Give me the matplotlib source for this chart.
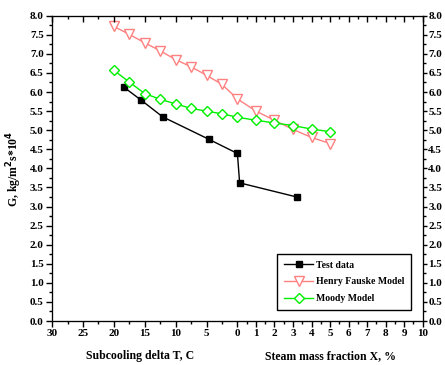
import matplotlib
matplotlib.use("Agg")
import matplotlib.pyplot as plt
from matplotlib.ticker import FixedLocator, MultipleLocator

plt.rcParams['font.family'] = 'Liberation Serif'
plt.rcParams['font.weight'] = 'bold'
plt.rcParams['font.size'] = 8

# x axis is split: subcooling (30 -> 0 C) on the left, steam quality (0 -> 10 %) on the right
subcool_ticks = [30, 25, 20, 15, 10, 5, 0]
quality_ticks = [1, 2, 3, 4, 5, 6, 7, 8, 9, 10]
QUALITY_SCALE = 3.0  # one % of quality takes as much room as 3 C of subcooling

# Henry Fauske model
hf_subcool = [20, 17.5, 15, 12.5, 10, 7.5, 5, 2.5, 0]
hf_subcool_G = [7.72, 7.51, 7.29, 7.08, 6.85, 6.66, 6.44, 6.20, 5.82]
hf_quality = [1, 2, 3, 4, 5]
hf_quality_G = [5.50, 5.26, 5.02, 4.81, 4.65]

# Moody model
moody_subcool = [20, 17.5, 15, 12.5, 10, 7.5, 5, 2.5, 0]
moody_subcool_G = [6.57, 6.26, 5.96, 5.81, 5.69, 5.57, 5.50, 5.43, 5.34]
moody_quality = [1, 2, 3, 4, 5]
moody_quality_G = [5.26, 5.19, 5.12, 5.03, 4.96]

# test data
test_subcool = [18.4, 15.6, 12.1, 4.6, 0]
test_subcool_G = [6.13, 5.79, 5.35, 4.76, 4.39]
test_quality = [0.12, 3.2]
test_quality_G = [3.62, 3.25]


def to_axis(subcool, quality):
    """map subcooling and quality values onto one shared x coordinate"""
    return [-t for t in subcool] + [q * QUALITY_SCALE for q in quality]


fig = plt.figure(figsize=(4.45, 3.65), dpi=100)
ax = fig.add_axes([0.117, 0.1205, 0.833, 0.8365])

ax.plot(to_axis(test_subcool, test_quality), test_subcool_G + test_quality_G,
        color='black', marker='s', markersize=5, linewidth=1, label='Test data')
ax.plot(to_axis(hf_subcool, hf_quality), hf_subcool_G + hf_quality_G,
        color='#ff8080', marker='v', markersize=6.5, markerfacecolor='white',
        markeredgewidth=1, linewidth=1, label='Henry Fauske Model')
ax.plot(to_axis(moody_subcool, moody_quality), moody_subcool_G + moody_quality_G,
        color='#00f000', marker='D', markersize=5.5, markerfacecolor='white',
        markeredgewidth=1, linewidth=1, label='Moody Model')

xmin, xmax = -30, 10 * QUALITY_SCALE
ax.set_xlim(xmin, xmax)
ax.set_ylim(0, 8)

major_x = [-t for t in subcool_ticks] + [q * QUALITY_SCALE for q in quality_ticks]
major_labels = [str(t) for t in subcool_ticks] + [str(q) for q in quality_ticks]
minor_x = [-t for t in [27.5, 22.5, 17.5, 12.5, 7.5, 2.5]] + \
          [(q + 0.5) * QUALITY_SCALE for q in range(0, 10)]

ax.xaxis.set_major_locator(FixedLocator(major_x))
ax.set_xticklabels(major_labels)
ax.xaxis.set_minor_locator(FixedLocator(minor_x))
ax.yaxis.set_major_locator(MultipleLocator(0.5))
ax.yaxis.set_minor_locator(MultipleLocator(0.25))
ax.yaxis.set_major_formatter(plt.FormatStrFormatter('%.1f'))
ax.tick_params(which='major', direction='out', length=4, width=1, pad=2)
ax.tick_params(which='minor', direction='out', length=2.5, width=1)

# right axis mirrors the left one
axr = ax.twinx()
axr.set_ylim(0, 8)
axr.yaxis.set_major_locator(MultipleLocator(0.5))
axr.yaxis.set_minor_locator(MultipleLocator(0.25))
axr.yaxis.set_major_formatter(plt.FormatStrFormatter('%.1f'))
axr.tick_params(which='major', direction='out', length=3, width=1, pad=1)
axr.tick_params(which='minor', direction='out', length=2, width=1)

# top axis, ticks pointing in, no labels
axt = ax.twiny()
axt.set_xlim(xmin, xmax)
axt.xaxis.set_major_locator(FixedLocator(major_x))
axt.xaxis.set_minor_locator(FixedLocator(minor_x))
axt.set_xticklabels([])
axt.tick_params(which='major', direction='in', length=4, width=1)
axt.tick_params(which='minor', direction='in', length=2.5, width=1)

ax.set_ylabel('G, kg/m$^2$s*10$^4$', fontsize=8.5, fontweight='bold', labelpad=4)
fig.text(0.315, 0.024, 'Subcooling delta T, C', ha='center', va='center',
         fontsize=8.5, fontweight='bold')
fig.text(0.742, 0.024, 'Steam mass fraction X, %', ha='center', va='center',
         fontsize=8.5, fontweight='bold')

leg = ax.legend(loc='lower right', bbox_to_anchor=(0.982, 0.02), fancybox=False,
                framealpha=1, edgecolor='black', fontsize=7, handlelength=3.0,
                borderpad=0.7, labelspacing=0.8, handletextpad=0.3)
leg.get_frame().set_linewidth(1)

fig.savefig('out.png', dpi=100)
